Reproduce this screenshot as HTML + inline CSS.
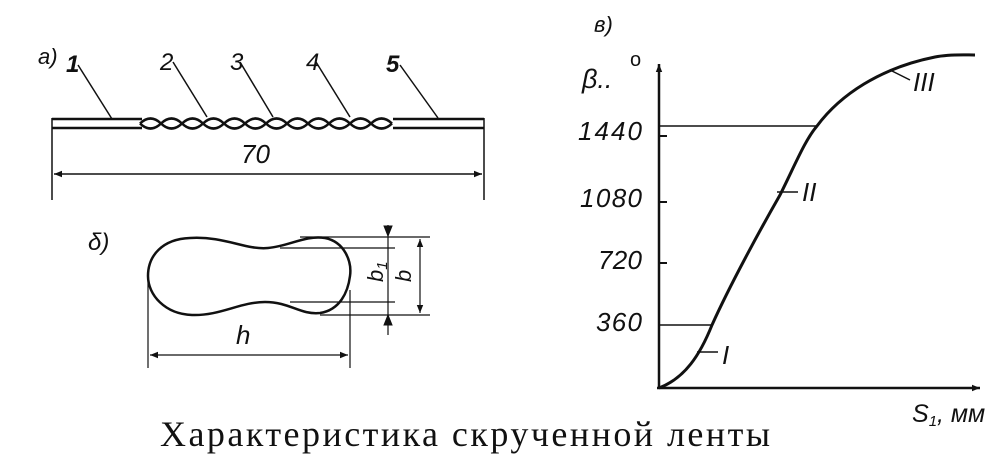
<!DOCTYPE html>
<html><head><meta charset="utf-8"><style>
html,body{margin:0;padding:0;background:#fff;}
svg{display:block;}
text{font-family:"Liberation Sans",sans-serif;fill:#111;}
.i{font-style:italic;}
</style></head><body>
<svg width="1000" height="460" viewBox="0 0 1000 460" xmlns="http://www.w3.org/2000/svg">
<defs>
<marker id="ar" viewBox="0 0 10 10" refX="10" refY="5" markerWidth="14" markerHeight="8" orient="auto-start-reverse" markerUnits="userSpaceOnUse"><path d="M0,1 L10,5 L0,9 Z" fill="#111"/></marker>
</defs>
<g stroke="#111" fill="none" stroke-width="2">
<line x1="52" y1="119" x2="142" y2="119" stroke-width="2.5"/>
<line x1="52" y1="128" x2="142" y2="128" stroke-width="2.5"/>
<line x1="393" y1="119" x2="484" y2="119" stroke-width="2.5"/>
<line x1="393" y1="128" x2="484" y2="128" stroke-width="2.5"/>
<path d="M140,123.5 q10.5,-10 21,0 q10.5,10 21,0 q10.5,-10 21,0 q10.5,10 21,0 q10.5,-10 21,0 q10.5,10 21,0 q10.5,-10 21,0 q10.5,10 21,0 q10.5,-10 21,0 q10.5,10 21,0 q10.5,-10 21,0 q10.5,10 21,0" stroke-width="2.5"/>
<path d="M140,123.5 q10.5,10 21,0 q10.5,-10 21,0 q10.5,10 21,0 q10.5,-10 21,0 q10.5,10 21,0 q10.5,-10 21,0 q10.5,10 21,0 q10.5,-10 21,0 q10.5,10 21,0 q10.5,-10 21,0 q10.5,10 21,0 q10.5,-10 21,0" stroke-width="2.5"/>
<line x1="52" y1="118" x2="52" y2="200" stroke-width="1.5"/>
<line x1="484" y1="118" x2="484" y2="200" stroke-width="1.5"/>
<line x1="54" y1="174" x2="482" y2="174" stroke-width="1.5" marker-start="url(#ar)" marker-end="url(#ar)"/>
<line x1="78" y1="65" x2="112" y2="119" stroke-width="1.5"/>
<line x1="173" y1="62" x2="207" y2="117" stroke-width="1.5"/>
<line x1="240" y1="62" x2="273" y2="117" stroke-width="1.5"/>
<line x1="316" y1="62" x2="350" y2="117" stroke-width="1.5"/>
<line x1="400" y1="65" x2="438" y2="118" stroke-width="1.5"/>
<path d="M190,238 C225,236 245,250 268,248 C290,246 305,235 325,238 C345,242 352,262 350,276 C348,292 340,310 320,313 C300,315 290,302 265,302 C240,302 220,316 192,315 C165,314 148,295 148,276 C148,256 162,239 190,238 Z" stroke-width="2.5"/>
<g stroke-width="1.2">
<line x1="300" y1="237" x2="430" y2="237"/>
<line x1="280" y1="248" x2="395" y2="248"/>
<line x1="290" y1="302" x2="395" y2="302"/>
<line x1="320" y1="315" x2="430" y2="315"/>
<line x1="388" y1="225" x2="388" y2="335"/>
<line x1="420" y1="239" x2="420" y2="313" marker-start="url(#ar)" marker-end="url(#ar)"/>
<line x1="148" y1="280" x2="148" y2="368"/>
<line x1="350" y1="290" x2="350" y2="368"/>
<line x1="150" y1="355" x2="348" y2="355" marker-start="url(#ar)" marker-end="url(#ar)"/>
</g>
<path d="M384,226 L388,236 L392,226 Z M384,325 L388,315 L392,325 Z" fill="#111" stroke-width="1"/>
<line x1="659" y1="388" x2="659" y2="64" marker-end="url(#ar)" stroke-width="2.5"/>
<line x1="657" y1="388" x2="980" y2="388" marker-end="url(#ar)" stroke-width="2.5"/>
<line x1="659" y1="126" x2="817" y2="126" stroke-width="1.5"/>
<line x1="659" y1="325" x2="712" y2="325" stroke-width="1.5"/>
<line x1="659" y1="136" x2="667" y2="136"/>
<line x1="659" y1="202" x2="667" y2="202"/>
<line x1="659" y1="263" x2="667" y2="263"/>
<path d="M659,388 C685,378 700,355 712,325 C730,285 760,230 780,195 C795,165 805,140 817,126 C840,95 880,68 935,57 C950,54 965,55 975,55" stroke-width="3"/>
<line x1="697" y1="352" x2="718" y2="352" stroke-width="1.5"/>
<line x1="777" y1="192" x2="798" y2="192" stroke-width="1.5"/>
<line x1="890" y1="70" x2="910" y2="80" stroke-width="1.5"/>
</g>
<g class="i">
<text x="38" y="64" font-size="22">a)</text>
<text x="66" y="72" font-size="24" font-weight="bold">1</text>
<text x="160" y="70" font-size="24">2</text>
<text x="230" y="70" font-size="24">3</text>
<text x="306" y="70" font-size="24">4</text>
<text x="386" y="72" font-size="24" font-weight="bold">5</text>
<text x="241" y="163" font-size="26">70</text>
<text x="88" y="250" font-size="24">δ)</text>
<text x="368" y="283" font-size="22" transform="rotate(-90 375 275)">b<tspan font-size="15" dy="4">1</tspan></text>
<text x="398" y="281" font-size="22" transform="rotate(-90 405 275)">b</text>
<text x="236" y="344" font-size="26">h</text>
<text x="594" y="32" font-size="22">в)</text>
<text x="582" y="88" font-size="27">β..</text>
<text x="578" y="140" font-size="26" textLength="64">1440</text>
<text x="580" y="207" font-size="26" textLength="62">1080</text>
<text x="598" y="269" font-size="26" textLength="44">720</text>
<text x="596" y="331" font-size="26" textLength="46">360</text>
<text x="722" y="364" font-size="26">I</text>
<text x="802" y="201" font-size="26">II</text>
<text x="913" y="91" font-size="26">III</text>
<text x="912" y="422" font-size="25">S<tspan font-size="15" dy="4">1</tspan><tspan dy="-4">, мм</tspan></text>
</g>
<text x="630" y="66" font-size="20">o</text>
<text x="160" y="446" font-size="36" textLength="610" lengthAdjust="spacing" style="font-family:'Liberation Serif',serif;">Характеристика скрученной ленты</text>
</svg>
</body></html>
